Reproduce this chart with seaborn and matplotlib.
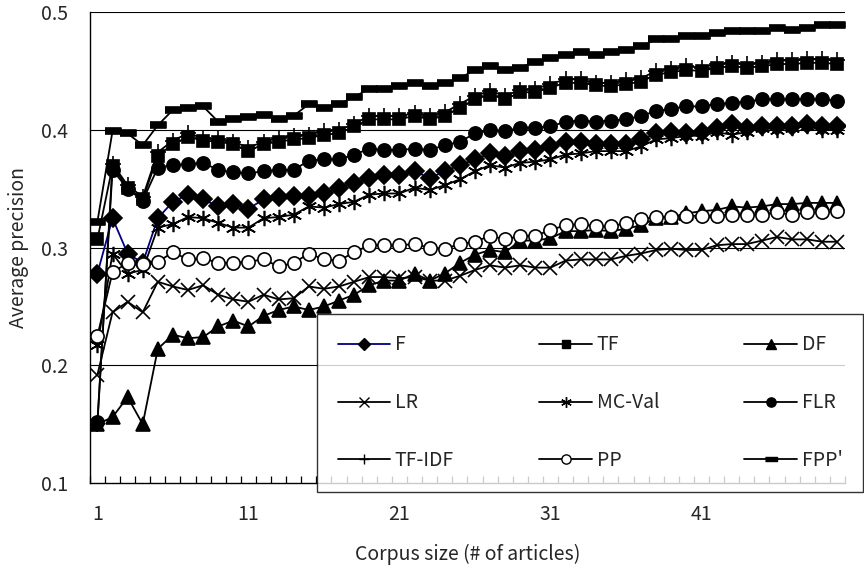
import numpy as np
import pandas as pd
import matplotlib
matplotlib.use("Agg")
import matplotlib.pyplot as plt
import seaborn as sns
from matplotlib.lines import Line2D

# corpus size 1..50
corpus_size = list(range(1, 51))

f_vals = [0.278, 0.325, 0.295, 0.287, 0.325, 0.339, 0.345, 0.341, 0.335, 0.337,
          0.333, 0.341, 0.343, 0.344, 0.344, 0.346, 0.351, 0.355, 0.359, 0.362,
          0.362, 0.365, 0.359, 0.365, 0.370, 0.375, 0.380, 0.378, 0.382, 0.383,
          0.386, 0.390, 0.390, 0.388, 0.388, 0.388, 0.392, 0.397, 0.398, 0.397,
          0.398, 0.402, 0.405, 0.402, 0.403, 0.403, 0.403, 0.405, 0.403, 0.403]
tf_vals = [0.307, 0.369, 0.351, 0.341, 0.378, 0.388, 0.394, 0.391, 0.390, 0.388,
           0.382, 0.388, 0.390, 0.392, 0.393, 0.396, 0.397, 0.403, 0.409, 0.409,
           0.409, 0.412, 0.409, 0.412, 0.419, 0.426, 0.430, 0.426, 0.432, 0.432,
           0.436, 0.440, 0.440, 0.438, 0.437, 0.439, 0.441, 0.447, 0.449, 0.451,
           0.450, 0.453, 0.454, 0.453, 0.454, 0.456, 0.456, 0.457, 0.457, 0.456]
df_vals = [0.150, 0.156, 0.173, 0.150, 0.214, 0.226, 0.223, 0.224, 0.233, 0.238,
           0.233, 0.242, 0.247, 0.250, 0.247, 0.250, 0.255, 0.260, 0.268, 0.272,
           0.272, 0.278, 0.272, 0.278, 0.287, 0.294, 0.298, 0.296, 0.306, 0.306,
           0.308, 0.314, 0.314, 0.315, 0.314, 0.316, 0.319, 0.325, 0.326, 0.329,
           0.331, 0.332, 0.335, 0.334, 0.335, 0.337, 0.337, 0.338, 0.338, 0.338]
lr_vals = [0.192, 0.245, 0.254, 0.245, 0.271, 0.267, 0.264, 0.268, 0.260, 0.256,
           0.254, 0.260, 0.256, 0.257, 0.267, 0.265, 0.267, 0.271, 0.275, 0.275,
           0.274, 0.275, 0.272, 0.272, 0.276, 0.281, 0.285, 0.283, 0.285, 0.283,
           0.283, 0.289, 0.290, 0.290, 0.290, 0.293, 0.295, 0.298, 0.299, 0.298,
           0.298, 0.302, 0.303, 0.303, 0.306, 0.309, 0.307, 0.307, 0.305, 0.305]
mcval_vals = [0.217, 0.295, 0.278, 0.281, 0.317, 0.320, 0.326, 0.325, 0.321, 0.317,
              0.317, 0.325, 0.326, 0.328, 0.335, 0.334, 0.337, 0.339, 0.345, 0.346,
              0.346, 0.351, 0.349, 0.353, 0.358, 0.365, 0.370, 0.368, 0.372, 0.373,
              0.375, 0.379, 0.380, 0.382, 0.382, 0.382, 0.386, 0.392, 0.393, 0.395,
              0.395, 0.398, 0.396, 0.398, 0.402, 0.400, 0.402, 0.403, 0.400, 0.400]
flr_vals = [0.152, 0.366, 0.350, 0.340, 0.368, 0.370, 0.371, 0.372, 0.366, 0.364,
            0.363, 0.365, 0.366, 0.366, 0.374, 0.375, 0.375, 0.379, 0.384, 0.383,
            0.383, 0.384, 0.383, 0.387, 0.390, 0.397, 0.400, 0.399, 0.402, 0.402,
            0.403, 0.407, 0.408, 0.407, 0.408, 0.409, 0.412, 0.416, 0.418, 0.420,
            0.420, 0.422, 0.423, 0.424, 0.426, 0.426, 0.426, 0.426, 0.426, 0.425]
tfidf_vals = [0.150, 0.371, 0.353, 0.343, 0.381, 0.391, 0.397, 0.393, 0.392, 0.390,
              0.385, 0.390, 0.393, 0.395, 0.396, 0.399, 0.400, 0.405, 0.412, 0.412,
              0.412, 0.414, 0.412, 0.415, 0.422, 0.429, 0.433, 0.429, 0.434, 0.435,
              0.439, 0.443, 0.443, 0.440, 0.440, 0.442, 0.444, 0.450, 0.452, 0.454,
              0.453, 0.456, 0.457, 0.456, 0.457, 0.459, 0.459, 0.460, 0.460, 0.459]
pp_vals = [0.225, 0.279, 0.287, 0.286, 0.288, 0.296, 0.290, 0.291, 0.287, 0.287,
           0.288, 0.290, 0.284, 0.287, 0.295, 0.290, 0.289, 0.296, 0.302, 0.302,
           0.302, 0.303, 0.300, 0.299, 0.303, 0.305, 0.310, 0.307, 0.310, 0.310,
           0.315, 0.319, 0.320, 0.318, 0.318, 0.321, 0.324, 0.326, 0.326, 0.327,
           0.327, 0.327, 0.328, 0.328, 0.328, 0.330, 0.328, 0.330, 0.330, 0.331]
fpp_vals = [0.322, 0.399, 0.397, 0.387, 0.404, 0.417, 0.419, 0.420, 0.407, 0.409,
            0.411, 0.413, 0.409, 0.412, 0.422, 0.419, 0.422, 0.428, 0.435, 0.435,
            0.437, 0.440, 0.437, 0.440, 0.444, 0.451, 0.454, 0.451, 0.453, 0.458,
            0.461, 0.464, 0.466, 0.464, 0.466, 0.468, 0.471, 0.477, 0.477, 0.480,
            0.480, 0.482, 0.484, 0.484, 0.484, 0.487, 0.485, 0.487, 0.489, 0.489]

x_ticklabels = ["1", "11", "21", "31", "41"]
y_ticks = [0.1, 0.2, 0.3, 0.4, 0.5]

sns.set_theme(style="white")
plt.rcParams['font.family'] = ['Noto Sans CJK JP', 'DejaVu Sans']
plt.rcParams['xtick.bottom'] = True
plt.rcParams['xtick.minor.bottom'] = True

dash = [(-1, -0.32), (1, -0.32), (1, 0.32), (-1, 0.32)]
# name, values, marker, size, face, line colour
series = [
    ("F", f_vals, "D", 9, "black", "#000080"),
    ("TF", tf_vals, "s", 9, "black", "black"),
    ("DF", df_vals, "^", 9.5, "black", "black"),
    ("LR", lr_vals, "x", 10, "black", "black"),
    ("MC-Val", mcval_vals, (6, 2, 0), 11, "black", "black"),
    ("FLR", flr_vals, "o", 9.5, "black", "black"),
    ("TF-IDF", tfidf_vals, "+", 11, "black", "black"),
    ("PP", pp_vals, "o", 9.5, "white", "black"),
    ("FPP'", fpp_vals, dash, 11.5, "black", "black"),
]

fig = plt.figure(figsize=(8.64, 5.74), dpi=100)
ax = fig.add_axes([0.104, 0.1585, 0.874, 0.8202])

handles = {}
for name, vals, mk, ms, fc, lc in series:
    d = pd.DataFrame({"x": corpus_size, "y": vals})
    sns.lineplot(data=d, x="x", y="y", ax=ax, color=lc, linewidth=1.3,
                 marker=mk, markersize=ms, markerfacecolor=fc,
                 markeredgecolor="black", markeredgewidth=1.2, zorder=3)
    handles[name] = Line2D([], [], color=lc, linewidth=1.3, marker=mk,
                           markersize=ms * 0.7, markerfacecolor=fc,
                           markeredgecolor="black", markeredgewidth=1.0)

ax.set_xlim(0.5, 50.5)
ax.set_ylim(0.1, 0.5)
ax.set_yticks(y_ticks)
ax.set_yticklabels(["0.1", "0.2", "0.3", "0.4", "0.5"])
ax.set_xticks([1, 11, 21, 31, 41])
ax.set_xticklabels(x_ticklabels)
ax.set_xticks(np.arange(0.5, 51, 1), minor=True)
ax.tick_params(axis="x", which="major", bottom=False, length=0, pad=15,
               labelsize=14, labelbottom=True)
ax.tick_params(axis="x", which="minor", direction="in", length=5, width=0.9,
               color="black", bottom=True)
ax.tick_params(axis="y", length=0, pad=16, labelsize=14)
ax.grid(False)
for yv in [0.2, 0.3, 0.4, 0.5]:
    ax.axhline(yv, color="black", linewidth=0.8, zorder=1)

for s in ["top", "right"]:
    ax.spines[s].set_visible(False)
for s in ["left", "bottom"]:
    ax.spines[s].set_color("black")
    ax.spines[s].set_linewidth(1.0)

ax.set_xlabel("Corpus size (# of articles)", fontsize=14, labelpad=14)
ax.set_ylabel("Average precision", fontsize=14, labelpad=8)

order = ["F", "LR", "TF-IDF", "TF", "MC-Val", "PP", "DF", "FLR", "FPP'"]
leg = ax.legend([handles[n] for n in order], order, ncol=3, loc="upper left",
                bbox_to_anchor=(0.367, 0.453, 0.632, 0.0),
                bbox_transform=fig.transFigure, mode="expand", borderaxespad=0,
                fontsize=14, frameon=True, fancybox=False, handlelength=2.7,
                handletextpad=0.25, labelspacing=1.9, borderpad=1.05)
leg.get_frame().set_edgecolor("black")
leg.get_frame().set_linewidth(1.0)
leg.set_zorder(5)

fig.savefig("out.png", dpi=100)
